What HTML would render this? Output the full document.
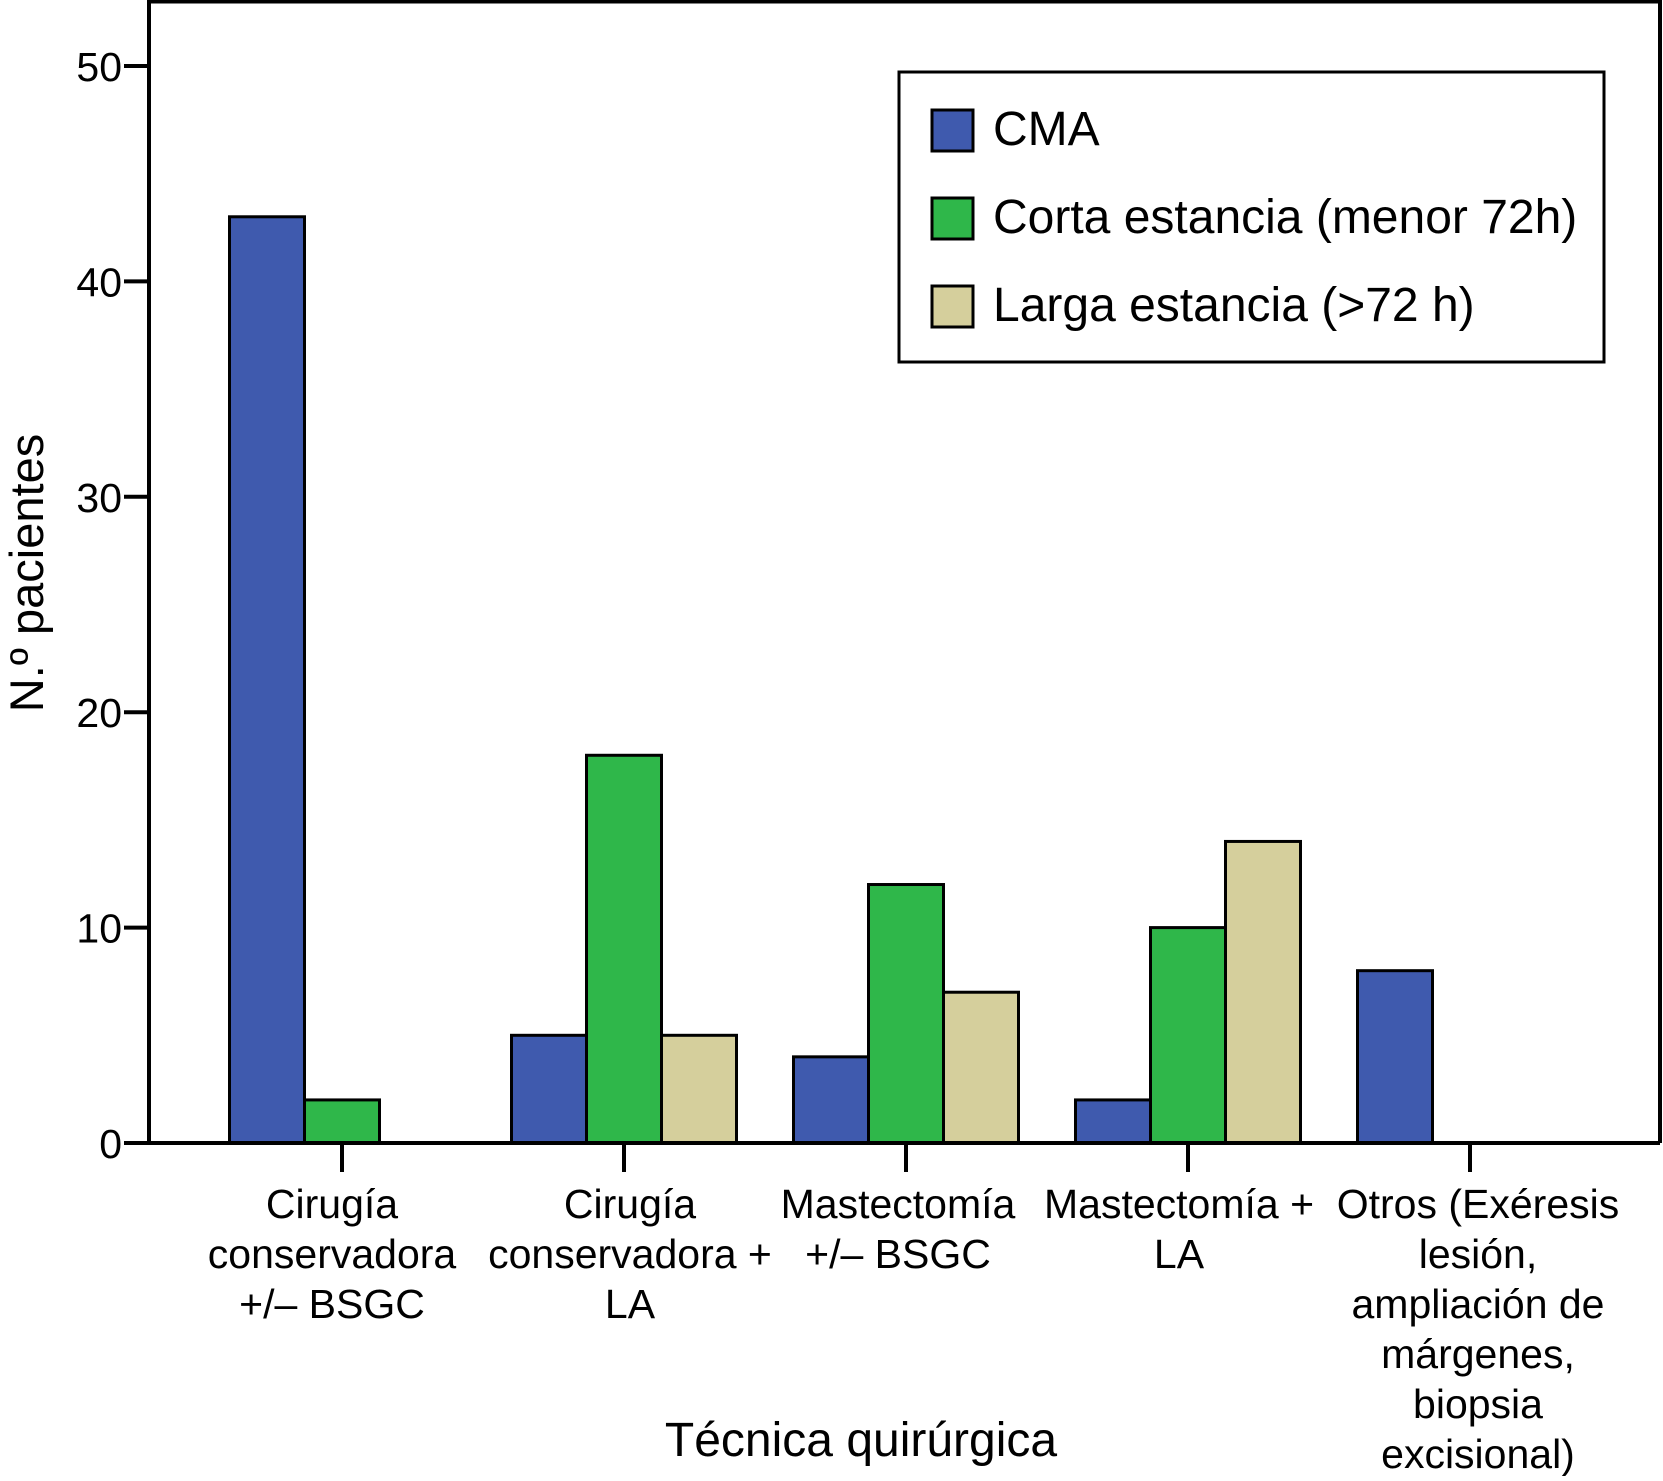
<!DOCTYPE html>
<html><head><meta charset="utf-8"><style>
html,body{margin:0;padding:0;background:#fff;}
svg text{font-family:"Liberation Sans",Arial,sans-serif;fill:#000;}
</style></head><body>
<svg id="chart" width="1663" height="1476" viewBox="0 0 1663 1476" xmlns="http://www.w3.org/2000/svg">
<g id="plot"></g>
</svg>
<script>
const categories = [
  ["Cirugía","conservadora","+/\u2013 BSGC"],
  ["Cirugía","conservadora +","LA"],
  ["Mastectomía","+/\u2013 BSGC"],
  ["Mastectomía +","LA"],
  ["Otros (Exéresis","lesión,","ampliación de","márgenes,","biopsia","excisional)"]
];
const seriesNames = ["CMA","Corta estancia (menor 72h)","Larga estancia (>72 h)"];
const cmaValues = [43, 5, 4, 2, 8];
const cortaValues = [2, 18, 12, 10, 0];
const largaValues = [0, 5, 7, 14, 0];
const yTicks = [0, 10, 20, 30, 40, 50];

const svg = document.getElementById('chart');
const g = document.getElementById('plot');
const NS = 'http://www.w3.org/2000/svg';
const colors = ['#3f5aae', '#2fb74a', '#d5cf9c'];
const series = [cmaValues, cortaValues, largaValues];
const labelShift = [-10, 6, -8, -9, 8];
const x0 = 149, x1 = 1660, yBase = 1143, pxPer = 21.54;
const y = v => yBase - v * pxPer;
const catX = i => 342 + i * 282;
const slot = 75;

function mk(tag, attrs, parent) {
  const e = document.createElementNS(NS, tag);
  for (const k in attrs) e.setAttribute(k, attrs[k]);
  (parent || g).appendChild(e);
  return e;
}

let fr = mk('polyline', {points: `${x0},${yBase} ${x0},1.5 ${x1},1.5 ${x1},${yBase}`, fill: 'none', stroke: '#000', 'stroke-width': 4});



series.forEach((vals, s) => {
  vals.forEach((v, i) => {
    if (v <= 0) return;
    const bx = catX(i) - 1.5 * slot + s * slot;
    const r = mk('rect', {x: bx, y: y(v), width: slot, height: yBase - y(v), fill: colors[s], stroke: '#000', 'stroke-width': 3});
    
    
  });
});

let xa = mk('line', {x1: x0, y1: yBase, x2: x1, y2: yBase, stroke: '#000', 'stroke-width': 4});



yTicks.forEach(t => {
  const l = mk('line', {x1: 124, y1: y(t), x2: x0, y2: y(t), stroke: '#000', 'stroke-width': 4});
  
  
  const tx = mk('text', {x: 122, y: y(t) + 15, 'text-anchor': 'end', 'font-size': 41});
  tx.textContent = t;
  
  
});

categories.forEach((lines, i) => {
  const l = mk('line', {x1: catX(i), y1: yBase, x2: catX(i), y2: 1172, stroke: '#000', 'stroke-width': 4});
  
  
  lines.forEach((ln, k) => {
    const tx = mk('text', {x: catX(i) + labelShift[i], y: 1218 + k * 50, 'text-anchor': 'middle', 'font-size': 41});
    tx.textContent = ln;
    
    
  });
});

let yt = mk('text', {x: 0, y: 0, 'text-anchor': 'middle', 'font-size': 47, transform: 'translate(43,573) rotate(-90)'});
yt.textContent = 'N.º pacientes';


let xt = mk('text', {x: 861, y: 1456, 'text-anchor': 'middle', 'font-size': 48});
xt.textContent = 'Técnica quirúrgica';



const lg = mk('g', {});


const lb = mk('rect', {x: 899, y: 72, width: 705, height: 290, fill: '#fff', stroke: '#000', 'stroke-width': 3}, lg);


seriesNames.forEach((n, s) => {
  const ry = 110 + s * 88;
  const sw = mk('rect', {x: 932, y: ry, width: 41, height: 41, fill: colors[s], stroke: '#000', 'stroke-width': 3}, lg);
  
  
  const tx = mk('text', {x: 993, y: ry + 35, 'font-size': 48}, lg);
  tx.textContent = n;
  
  
});
</script>
</body></html>
